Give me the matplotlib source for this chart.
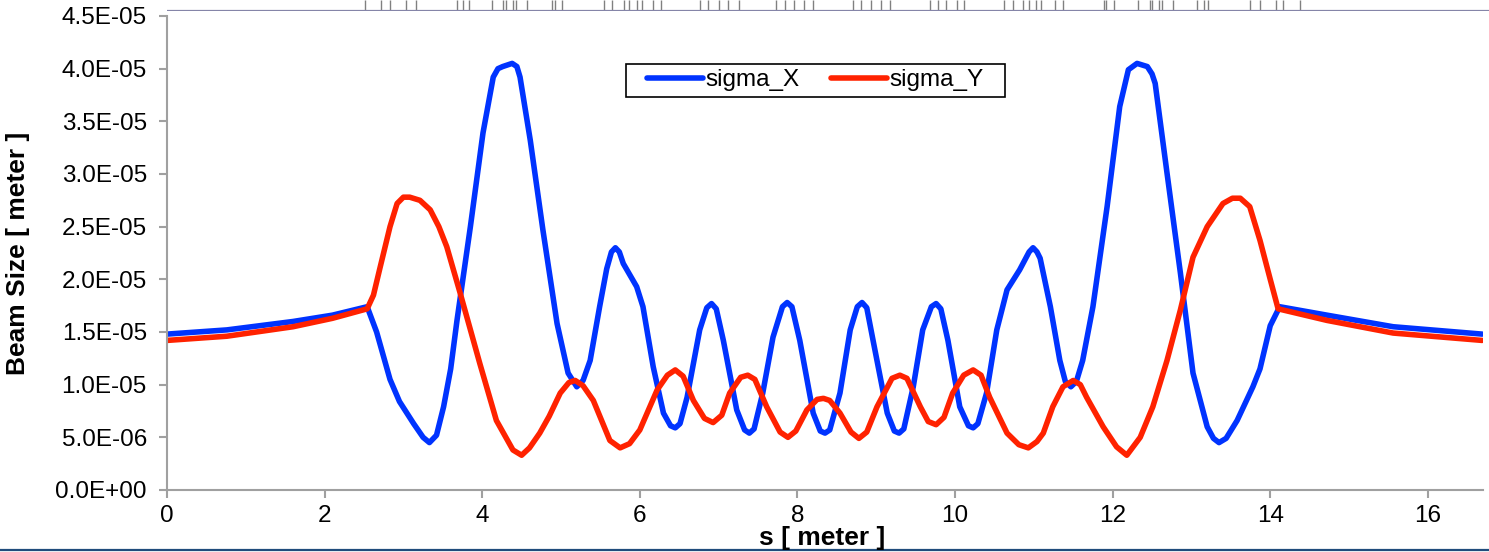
import matplotlib
matplotlib.use("Agg")
import matplotlib.pyplot as plt
import matplotlib.patches as patches
from matplotlib.lines import Line2D

# s positions [meter] and beam sizes (in 1e-6 meter)
s_x = [0.00, 0.76, 1.60, 2.10, 2.54, 2.66, 2.83, 2.95, 3.13, 3.25, 3.33, 3.42, 3.51, 3.60, 3.68,
       3.85, 4.01, 4.14, 4.20, 4.26, 4.38, 4.44, 4.48, 4.61, 4.77, 4.95, 5.09, 5.20, 5.28, 5.37,
       5.49, 5.58, 5.64, 5.69, 5.74, 5.79, 5.96, 6.04, 6.17, 6.30, 6.39, 6.45, 6.51, 6.60, 6.76,
       6.85, 6.91, 6.97, 7.06, 7.23, 7.33, 7.39, 7.45, 7.56, 7.69, 7.81, 7.87, 7.93, 8.03, 8.20,
       8.29, 8.35, 8.41, 8.54, 8.67, 8.76, 8.82, 8.88, 8.96, 9.14, 9.23, 9.29, 9.35, 9.47, 9.59,
       9.70, 9.76, 9.82, 9.91, 10.06, 10.17, 10.23, 10.29, 10.40, 10.53, 10.66, 10.82, 10.94,
       10.99, 11.04, 11.08, 11.21, 11.33, 11.40, 11.47, 11.54, 11.62, 11.75, 11.93, 12.09, 12.20,
       12.31, 12.44, 12.50, 12.54, 12.69, 12.86, 13.02, 13.20, 13.28, 13.35, 13.44, 13.58, 13.78,
       13.87, 14.00, 14.12, 14.72, 15.56, 16.69]
sigma_x = [14.8, 15.2, 16.0, 16.6, 17.4, 15.0, 10.5, 8.4, 6.3, 5.0, 4.5, 5.2, 7.9, 11.5, 16.1,
           25.0, 33.9, 39.2, 40.0, 40.2, 40.5, 40.2, 39.2, 33.2, 24.7, 15.8, 11.1, 9.8, 10.4, 12.3,
           17.4, 21.0, 22.6, 23.0, 22.6, 21.5, 19.3, 17.4, 11.7, 7.3, 6.1, 5.9, 6.3, 8.8, 15.2,
           17.3, 17.7, 17.2, 14.2, 7.6, 5.7, 5.4, 5.8, 9.2, 14.5, 17.4, 17.8, 17.4, 14.2, 7.3,
           5.6, 5.4, 5.7, 9.2, 15.2, 17.4, 17.8, 17.3, 14.2, 7.3, 5.6, 5.4, 5.8, 9.8, 15.2,
           17.4, 17.7, 17.2, 14.2, 7.9, 6.1, 5.9, 6.3, 9.2, 15.2, 19.0, 20.9, 22.6,
           23.0, 22.6, 22.0, 17.4, 12.3, 10.3, 9.8, 10.3, 12.3, 17.4, 26.9, 36.4, 39.9,
           40.5, 40.2, 39.5, 38.6, 30.1, 20.6, 11.1, 6.0, 4.9, 4.5, 4.9, 6.6, 9.8,
           11.5, 15.6, 17.4, 16.6, 15.5, 14.8]

s_y = [0.00, 0.76, 1.60, 2.10, 2.54, 2.62, 2.70, 2.83, 2.92, 3.00, 3.08, 3.21, 3.34, 3.45, 3.55,
       3.72, 3.97, 4.18, 4.39, 4.50, 4.60, 4.73, 4.85, 4.99, 5.10, 5.18, 5.28, 5.41, 5.62, 5.75,
       5.87, 6.00, 6.22, 6.35, 6.45, 6.55, 6.68, 6.82, 6.93, 7.04, 7.14, 7.28, 7.37, 7.46, 7.61,
       7.78, 7.88, 7.98, 8.12, 8.25, 8.33, 8.41, 8.54, 8.68, 8.78, 8.88, 9.01, 9.20, 9.30, 9.39,
       9.56, 9.66, 9.76, 9.86, 9.97, 10.11, 10.23, 10.33, 10.44, 10.66, 10.81, 10.93, 11.04,
       11.12, 11.24, 11.37, 11.50, 11.59, 11.67, 11.88, 12.05, 12.18, 12.35, 12.51, 12.69, 12.86,
       13.02, 13.20, 13.40, 13.52, 13.62, 13.74, 13.87, 14.00, 14.10, 14.72, 15.56, 16.69]
sigma_y = [14.2, 14.6, 15.5, 16.3, 17.2, 18.5, 21.0, 25.0, 27.2, 27.8, 27.8, 27.5, 26.6, 25.0, 23.1,
           18.7, 12.0, 6.6, 3.8, 3.3, 4.0, 5.4, 7.0, 9.2, 10.2, 10.4, 9.9, 8.5, 4.7, 4.0,
           4.4, 5.7, 9.5, 10.9, 11.4, 10.8, 8.5, 6.8, 6.4, 7.1, 9.2, 10.7, 10.9, 10.5, 7.9,
           5.5, 5.0, 5.6, 7.6, 8.6, 8.7, 8.5, 7.3, 5.5, 4.9, 5.5, 7.9, 10.6, 10.9, 10.6,
           7.9, 6.5, 6.2, 6.9, 9.2, 10.9, 11.4, 10.9, 8.8, 5.4, 4.3, 4.0, 4.6,
           5.4, 7.9, 9.8, 10.4, 10.0, 8.8, 6.0, 4.1, 3.3, 5.0, 7.9, 12.3, 17.1,
           22.1, 25.0, 27.2, 27.7, 27.7, 26.9, 23.7, 20.0, 17.2, 16.1, 14.9, 14.2]

# lattice element edges shown in the strip on top [meter]
lattice_s = [2.51, 2.72, 2.83, 3.03, 3.16, 3.68, 3.76, 3.83, 4.12, 4.26, 4.30, 4.39, 4.43, 4.57,
             4.89, 4.92, 5.01, 5.55, 5.65, 5.80, 5.86, 5.96, 6.03, 6.17, 6.27, 6.76, 6.87, 7.01,
             7.12, 7.26, 7.73, 7.84, 7.96, 8.08, 8.20, 8.71, 8.81, 8.93, 9.06, 9.18, 9.68, 9.78,
             9.89, 10.03, 10.11, 10.62, 10.74, 10.86, 10.94, 11.03, 11.09, 11.27, 11.37, 11.89,
             11.92, 12.02, 12.32, 12.47, 12.50, 12.59, 12.63, 12.77, 13.07, 13.16, 13.21, 13.74,
             13.87, 14.07, 14.16, 14.38]

x_ticks = [0, 2, 4, 6, 8, 10, 12, 14, 16]
y_ticks = [0, 5, 10, 15, 20, 25, 30, 35, 40, 45]

plt.rcParams['font.family'] = ['Liberation Sans', 'DejaVu Sans']

fig = plt.figure(figsize=(14.89, 5.52), dpi=100)
W, H = 1489.0, 552.0

# main axes
left, right, bottom, top = 167 / W, 1483 / W, 62 / H, 536 / H
ax = fig.add_axes([left, bottom, right - left, top - bottom])
xmax = 16.7
ax.set_xlim(0, xmax)
ax.set_ylim(0, 45e-6)

ax.plot(s_x, [v * 1e-6 for v in sigma_x], color='#0033ff', lw=4.0, label='sigma_X',
        solid_capstyle='round', solid_joinstyle='round')
ax.plot(s_y, [v * 1e-6 for v in sigma_y], color='#ff2200', lw=4.0, label='sigma_Y',
        solid_capstyle='round', solid_joinstyle='round')

ax.set_xticks(x_ticks)
ax.set_yticks([v * 1e-6 for v in y_ticks])
ax.set_yticklabels(['{:.1E}'.format(v * 1e-6) for v in y_ticks])
for sp in ['top', 'right']:
    ax.spines[sp].set_visible(False)
for sp in ['left', 'bottom']:
    ax.spines[sp].set_color('#a0a0a0')
    ax.spines[sp].set_linewidth(1.5)
ax.tick_params(axis='both', colors='#a0a0a0', width=1.5, length=5.5, labelsize=17.5,
               labelcolor='black')
ax.tick_params(axis='y', pad=9)
ax.tick_params(axis='x', pad=5)

# axis titles
fig.text(18 / W, 1 - 253 / H, 'Beam Size [ meter ]', rotation=90, ha='center', va='center',
         fontsize=19, fontweight='bold')
fig.text(822 / W, 1 - 538 / H, 's [ meter ]', ha='center', va='center',
         fontsize=19, fontweight='bold')

# legend, box drawn by hand for the wide side padding
leg = ax.legend(loc='upper left', bbox_to_anchor=(0.361, 0.8987), ncol=2, frameon=False,
                fontsize=17.5, handlelength=2.3, handletextpad=0.1, columnspacing=1.3,
                borderpad=0.22, borderaxespad=0)
fig.canvas.draw()
bb = leg.get_window_extent().transformed(fig.transFigure.inverted())
padx = 16 / W
fig.add_artist(patches.Rectangle((bb.x0 - padx, bb.y0), bb.width + 2 * padx, bb.height,
                                 transform=fig.transFigure, fill=False, edgecolor='black',
                                 lw=1.2))

# lattice strip at the top
sx = fig.add_axes([left, 1 - 10.5 / H, 1 - left, 10.5 / H])
sx.set_xlim(0, xmax * (1 - left) / (right - left))
sx.set_ylim(0, 1)
sx.axis('off')
sx.vlines(lattice_s, 0, 1, color='#808080', lw=1)
sx.axhline(0, color='#8585a8', lw=1.6)

# dark line at the very bottom
fig.add_artist(Line2D([0, 1], [2 / H, 2 / H], color='#204c7c', lw=1.6))

fig.savefig('out.png', dpi=100)
